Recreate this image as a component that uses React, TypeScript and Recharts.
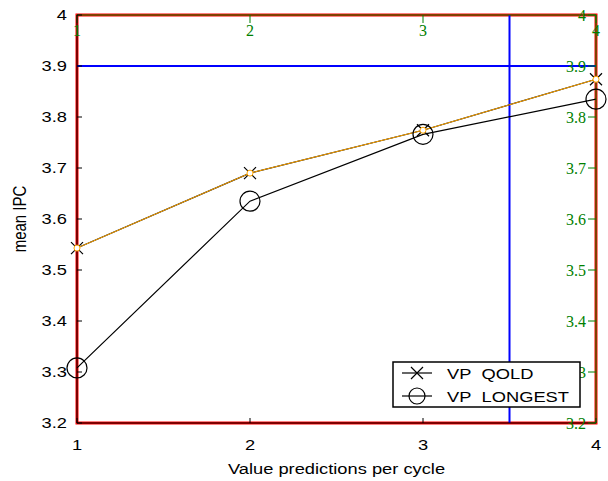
import React from "react";
import { LineChart, Line, XAxis, YAxis, Legend, ReferenceLine } from "recharts";

const predictions = [1, 2, 3, 4];
const vpQold = [3.543, 3.69, 3.774, 3.874];
const vpLongest = [3.308, 3.635, 3.766, 3.835];
const xTicks = [1, 2, 3, 4];
const yTicks = [3.2, 3.3, 3.4, 3.5, 3.6, 3.7, 3.8, 3.9, 4];
const seriesNames = ["VP\u00a0\u00a0QOLD", "VP\u00a0\u00a0LONGEST"];

const data = predictions.map((p, i) => ({ x: p, qold: vpQold[i], longest: vpLongest[i] }));

const FONT = "'Liberation Sans', Arial, Helvetica, sans-serif";
const FS = 15;
const SX = 1.22;

const YTick = (props: any) => {
  const { x, y, payload } = props;
  return (
    <text transform={`translate(${x - 10},${y + 5}) scale(${SX},1)`} textAnchor="end" fontFamily={FONT} fontSize={FS} fill="#000">
      {String(payload.value)}
    </text>
  );
};

const XTick = (props: any) => {
  const { x, y, payload } = props;
  return (
    <text transform={`translate(${x},${y + 27}) scale(${SX},1)`} textAnchor="middle" fontFamily={FONT} fontSize={FS} fill="#000">
      {String(payload.value)}
    </text>
  );
};

const CrossDot = (props: any) => {
  const { cx, cy, index } = props;
  const s = 6;
  return (
    <path key={`c-${index}`} d={`M${cx - s},${cy - s}L${cx + s},${cy + s}M${cx - s},${cy + s}L${cx + s},${cy - s}`}
      stroke="#000" strokeWidth={1.2} fill="none" />
  );
};

const CircleDot = (props: any) => {
  const { cx, cy, index } = props;
  return <circle key={`o-${index}`} cx={cx} cy={cy} r={10} stroke="#000" strokeWidth={1.2} fill="none" />;
};

const LegendBox = () => (
  <svg width={190} height={48} style={{ display: "block" }}>
    <rect x={1} y={1} width={187} height={45} fill="#fff" stroke="#000" strokeWidth={1.5} />
    <line x1={10} y1={12} x2={40} y2={12} stroke="#000" strokeWidth={1.2} />
    <path d="M19,6L31,18M19,18L31,6" stroke="#000" strokeWidth={1.2} fill="none" />
    <text transform={`translate(55,17.5) scale(${SX},1)`} fontFamily={FONT} fontSize={FS} fill="#000">{seriesNames[0]}</text>
    <line x1={10} y1={35} x2={40} y2={35} stroke="#000" strokeWidth={1.2} />
    <circle cx={25} cy={35} r={8} stroke="#000" strokeWidth={1.2} fill="none" />
    <text transform={`translate(55,40.5) scale(${SX},1)`} fontFamily={FONT} fontSize={FS} fill="#000">{seriesNames[1]}</text>
  </svg>
);

export default function App() {
  return (
    <div style={{ position: "absolute", left: 0, top: 0, width: 608, height: 481, background: "#fff" }}>
      <LineChart width={608} height={481} data={data} margin={{ top: 15, right: 12, left: 0, bottom: 0 }}>
        <rect x={77} y={15} width={519} height={408} fill="none" stroke="red" strokeWidth={3} />
        <XAxis xAxisId="b" dataKey="x" type="number" domain={[1, 4]} ticks={xTicks} height={58} stroke="#000"
          tickSize={-5} tickMargin={5} tick={<XTick />} interval={0} />
        <XAxis xAxisId="t" dataKey="x" type="number" domain={[1, 4]} ticks={xTicks} orientation="top" mirror
          stroke="green" tickSize={8} interval={0} />
        <YAxis yAxisId="l" type="number" domain={[3.2, 4]} ticks={yTicks} width={77} stroke="#000"
          tickSize={-5} tickMargin={5} tick={<YTick />} interval={0} />
        <YAxis yAxisId="r" type="number" domain={[3.2, 4]} ticks={yTicks} orientation="right" mirror
          stroke="green" tickSize={8} interval={0} />
        <ReferenceLine xAxisId="b" yAxisId="l" y={3.9} stroke="blue" strokeWidth={2} />
        <ReferenceLine xAxisId="b" yAxisId="l" x={3.5} stroke="blue" strokeWidth={2} />
        <Line xAxisId="b" yAxisId="l" dataKey="qold" name={seriesNames[0]} stroke="#000" strokeWidth={1.2}
          dot={<CrossDot />} isAnimationActive={false} />
        <Line xAxisId="b" yAxisId="l" dataKey="longest" name={seriesNames[1]} stroke="#000" strokeWidth={1.2}
          dot={<CircleDot />} isAnimationActive={false} />
        <Line xAxisId="t" yAxisId="r" dataKey="qold" stroke="orange" isAnimationActive={false} />
        <Legend layout="horizontal" align="center" verticalAlign="middle" content={() => <LegendBox />}
          wrapperStyle={{ position: "absolute", left: 392, top: 361, width: 190, height: 48 }} />
        <text transform={`translate(336.5,474) scale(${SX},1)`} textAnchor="middle" fontFamily={FONT} fontSize={FS} fill="#000">
          Value predictions per cycle
        </text>
        <text transform={`translate(26,219) rotate(-90) scale(1,${SX})`} textAnchor="middle" fontFamily={FONT} fontSize={FS} fill="#000">
          mean IPC
        </text>
      </LineChart>
    </div>
  );
}
